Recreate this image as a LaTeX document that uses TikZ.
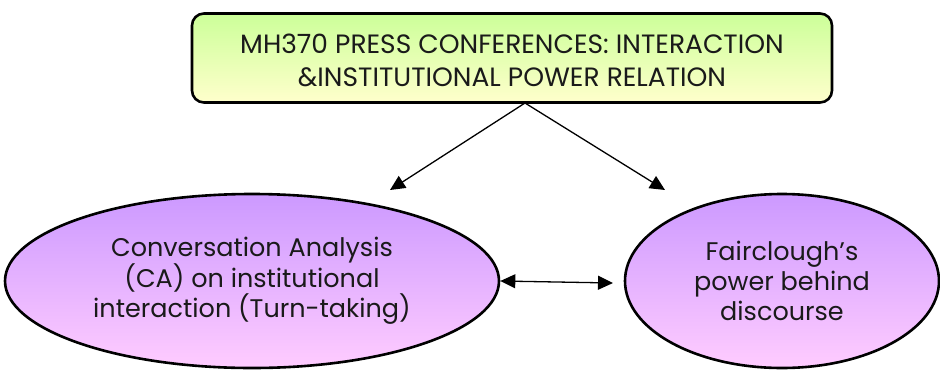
\documentclass[tikz,border=0pt]{standalone}
\usepackage{fontspec}
\setmainfont{Poppins}
\usetikzlibrary{shapes.geometric,arrows.meta}
\definecolor{gruen}{HTML}{CCFF99}
\definecolor{gelb}{HTML}{FFFFCC}
\definecolor{lila}{HTML}{CC99FF}
\definecolor{rosa}{HTML}{FFCCFF}
\definecolor{schrift}{HTML}{1A1A1A}

\begin{document}
\begin{tikzpicture}[x=1pt,y=-1pt,
    kasten/.style={draw,line width=2.6pt,rounded corners=12pt,top color=gruen,bottom color=gelb,
        minimum width=640pt,minimum height=89pt,align=center,text=schrift,
        font=\fontsize{26.5}{32.5}\selectfont},
    blase/.style={ellipse,draw,line width=2.6pt,top color=lila,bottom color=rosa,inner sep=0pt,
        minimum height=174pt,align=center,text=schrift,font=\fontsize{25.5}{30}\selectfont},
    pfeil/.style={line width=1.3pt,-{Triangle[length=15pt,width=14pt]}},
    doppelpfeil/.style={line width=1.3pt,{Triangle[length=15pt,width=14pt]}-{Triangle[length=15pt,width=14pt]}}]
    % Rahmen in der Größe des Originals (Pixel als pt, y nach unten):
    \useasboundingbox (0,0) rectangle (940,370);
    % Der Titelkasten oben (Text ein wenig nach unten geschoben, wie im Original;
    % die gemeldete Höhe/Tiefe bleibt gleich, sonst zentriert TikZ wieder):
    \node[kasten] (titel) at (512,58) {\raisebox{-5.5pt}[\height][\depth]{\begin{tabular}{@{}c@{}}MH370 PRESS CONFERENCES: INTERACTION\\ \&INSTITUTIONAL POWER RELATION\end{tabular}}};
    % Die beiden Ellipsen:
    \node[blase,minimum width=494pt] (ca) at (252,281) {Conversation Analysis\\ (CA) on institutional\\ interaction (Turn-taking)};
    \node[blase,minimum width=314pt] (fc) at (782,281) {Fairclough’s\\ power behind\\ discourse};
    % Die Pfeile enden frei vor den Ellipsen, daher benannte Punkte:
    \coordinate (abzweig) at (525,103);
    \coordinate (linksziel) at (390,190);
    \coordinate (rechtsziel) at (665,190);
    \coordinate (mitte) at (613,283);
    \draw[pfeil] (abzweig) -- (linksziel);
    \draw[pfeil] (abzweig) -- (rechtsziel);
    \draw[doppelpfeil] (ca.east) -- (mitte);
\end{tikzpicture}
\end{document}
